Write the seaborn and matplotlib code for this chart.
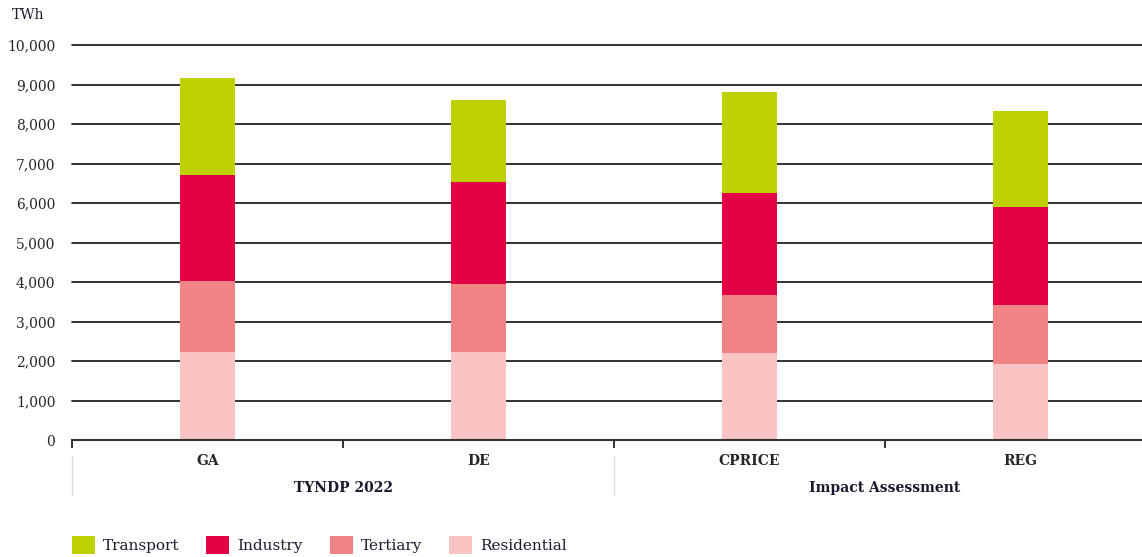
import matplotlib as mpl
import numpy as np
import pandas
import seaborn as sns
from matplotlib import pyplot
from matplotlib import transforms
from matplotlib.patches import Patch

# %% -- data ---------------------------------------------------------------- #
scenarios   = ['GA', 'DE', 'CPRICE', 'REG']
groups      = ['TYNDP 2022', 'Impact Assessment']
group_span  = [(0, 1), (2, 3)]
sectors     = ['Residential', 'Tertiary', 'Industry', 'Transport']
residential = [2220, 2220, 2190, 1930]
tertiary    = [1810, 1730, 1480, 1480]
industry    = [2680, 2570, 2580, 2500]
transport   = [2460, 2100, 2570, 2410]
yticks      = [0, 1000, 2000, 3000, 4000, 5000, 6000, 7000, 8000, 9000, 10000]

colours = {'Transport': '#bfd000',
           'Industry': '#e30045',
           'Tertiary': '#f08484',
           'Residential': '#f9c4c3'}

# %% -- build stacked table ------------------------------------------------- #
df = pandas.DataFrame({'scenario': scenarios,
                       'Residential': residential,
                       'Tertiary': tertiary,
                       'Industry': industry,
                       'Transport': transport})
cum = df[sectors].cumsum(axis=1)
cum['scenario'] = df['scenario']

# %% -- figure -------------------------------------------------------------- #
sns.set_style("white")
mpl.rcParams['font.family'] = ['DejaVu Serif']
mpl.rcParams['text.color'] = '#1a1a2e'

f = pyplot.figure(figsize=(11.42, 5.57), dpi=100)
ax = f.add_axes([72/1142, 1-440/557, 1-72/1142, (440-45)/557])

# draw cumulative totals from the top segment down so they stack visually
for s in reversed(sectors):
    sns.barplot(data=cum, x='scenario', y=s, color=colours[s], width=0.2,
                saturation=1, ax=ax, zorder=3, linewidth=0)

ax.set_ylim(0, 10000)
ax.set_xlim(-0.5, 3.448)
ax.set_yticks(yticks)
ax.set_yticklabels([f'{v:,}' for v in yticks], fontsize=10)
ax.yaxis.grid(True, color='#222222', linewidth=1.3)
for line in ax.get_ygridlines():
    line.set_clip_on(False)
ax.set_axisbelow(True)
ax.set_xlabel('')
ax.set_ylabel('')

for side in ['top', 'right', 'left']:
    ax.spines[side].set_visible(False)
ax.spines['bottom'].set_color('#333333')
ax.spines['bottom'].set_linewidth(1.5)
ax.spines['bottom'].set_zorder(4)

ax.tick_params(axis='y', length=0, pad=12)
ax.set_xticks(range(len(scenarios)))
ax.set_xticklabels(scenarios, fontsize=10, fontweight='bold')
ax.tick_params(axis='x', which='major', bottom=True, length=0, pad=10)
ax.set_xticks([-0.5, 0.5, 1.5, 2.5], minor=True)
ax.tick_params(axis='x', which='minor', bottom=True, length=6, width=1.3,
               color='#222222', direction='out')

# group labels and separators
trans = transforms.blended_transform_factory(ax.transData, f.transFigure)
for name, (a, b) in zip(groups, group_span):
    ax.text((a + b) / 2, 1-488/557, name, transform=trans, ha='center',
            va='center', fontsize=10, fontweight='bold')
    ax.plot([a - 0.5, a - 0.5], [1-456/557, 1-495/557], transform=trans,
            color='#dddddd', linewidth=1, clip_on=False)

# unit label
f.text(12/1142, 1-15/557, 'TWh', fontsize=10, va='center', ha='left')

# legend
handles = [Patch(facecolor=colours[s], edgecolor='none', label=s)
           for s in ['Transport', 'Industry', 'Tertiary', 'Residential']]
f.legend(handles=handles, loc='center left', bbox_to_anchor=(58/1142, 1-545/557),
         ncol=4, frameon=False, fontsize=11, handlelength=1.5,
         handleheight=1.4, handletextpad=0.55, columnspacing=1.75)

pyplot.savefig('out.png', dpi=100)
